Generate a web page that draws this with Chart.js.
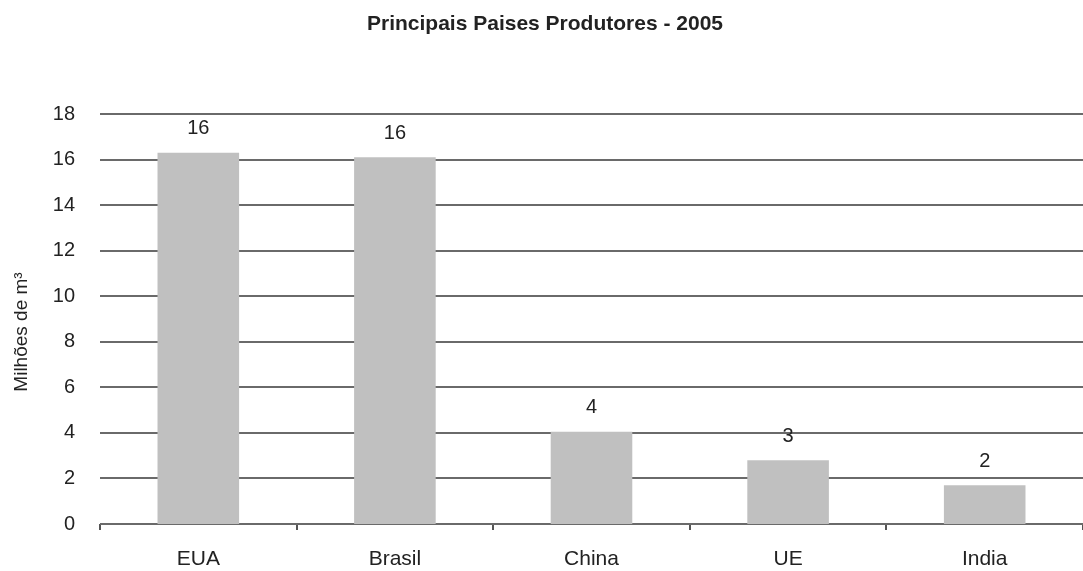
<!DOCTYPE html>
<html>
<head>
<meta charset="utf-8">
<title>Principais Paises Produtores - 2005</title>
<script src="https://cdn.jsdelivr.net/npm/chart.js@4/dist/chart.umd.min.js"></script>
<style>
  html, body { margin: 0; padding: 0; background: #fff; }
  #wrap { width: 1083px; height: 571px; }
</style>
</head>
<body>
<div id="wrap"><canvas id="myChart"></canvas></div>
<script>
// produção por país (milhões de m³)
var paises = ["EUA", "Brasil", "China", "UE", "India"];
var producao = [16.3, 16.1, 4.05, 2.8, 1.7];
var escalaY = [0, 2, 4, 6, 8, 10, 12, 14, 16, 18];

var fonte = '"Liberation Sans", Arial, sans-serif';

// linhas horizontais da grade, atrás das barras
var linhasGrade = {
    id: 'linhasGrade',
    beforeDatasetsDraw: function(chart) {
        var ctx = chart.ctx;
        var y = chart.scales.y;
        ctx.save();
        ctx.strokeStyle = '#6a6a6a';
        ctx.lineWidth = 2;
        for (var i = 0; i < y.ticks.length; i++) {
            var py = Math.round(y.getPixelForValue(y.ticks[i].value));
            ctx.beginPath();
            ctx.moveTo(chart.chartArea.left, py);
            ctx.lineTo(chart.width, py);
            ctx.stroke();
        }
        ctx.restore();
    }
};

// valor arredondado em cima de cada barra + título do eixo y
var rotulos = {
    id: 'rotulos',
    afterDatasetsDraw: function(chart) {
        var ctx = chart.ctx;
        var meta = chart.getDatasetMeta(0);
        ctx.save();
        ctx.font = '20px ' + fonte;
        ctx.fillStyle = '#222';
        ctx.textAlign = 'center';
        ctx.textBaseline = 'middle';
        meta.data.forEach(function(bar, i) {
            ctx.fillText(Math.round(producao[i]), bar.x, bar.y - 24);
        });

        // "Milhões de m³" na vertical
        ctx.translate(22, 332);
        ctx.rotate(-Math.PI / 2);
        ctx.font = '19px ' + fonte;
        ctx.fillText('Milhões de m³', 0, 0);
        ctx.restore();
    }
};

var ctx = document.getElementById("myChart");
var myChart = new Chart(ctx, {
    type: 'bar',
    data: {
        labels: paises,
        datasets: [{
            data: producao,
            backgroundColor: '#c0c0c0',
            borderWidth: 0,
            categoryPercentage: 1,
            barPercentage: 0.415
        }]
    },
    options: {
        responsive: true,
        maintainAspectRatio: false,
        animation: false,
        devicePixelRatio: 1,
        layout: { padding: { left: 0, right: -7, top: 0, bottom: 0 } },
        plugins: {
            legend: { display: false },
            tooltip: { enabled: false },
            title: {
                display: true,
                text: 'Principais Paises Produtores - 2005',
                color: '#222',
                font: { family: fonte, size: 21, weight: 'bold' },
                padding: { top: 12, bottom: 76.8 }
            }
        },
        scales: {
            x: {
                offset: true,
                border: { display: false },
                grid: {
                    offset: true,
                    drawOnChartArea: false,
                    drawTicks: true,
                    tickLength: 6,
                    color: '#555',
                    lineWidth: 2
                },
                afterFit: function(scale) { scale.height = 47; },
                ticks: {
                    color: '#222',
                    padding: 17,
                    font: { family: fonte, size: 21 }
                }
            },
            y: {
                min: 0,
                max: 18,
                border: { display: false },
                grid: { display: false, drawTicks: false },
                afterBuildTicks: function(scale) {
                    scale.ticks = escalaY.map(function(v) { return { value: v }; });
                },
                afterFit: function(scale) { scale.width = 100; },
                ticks: {
                    color: '#222',
                    padding: 25,
                    font: { family: fonte, size: 20 }
                }
            }
        }
    },
    plugins: [linhasGrade, rotulos]
});
</script>
</body>
</html>
